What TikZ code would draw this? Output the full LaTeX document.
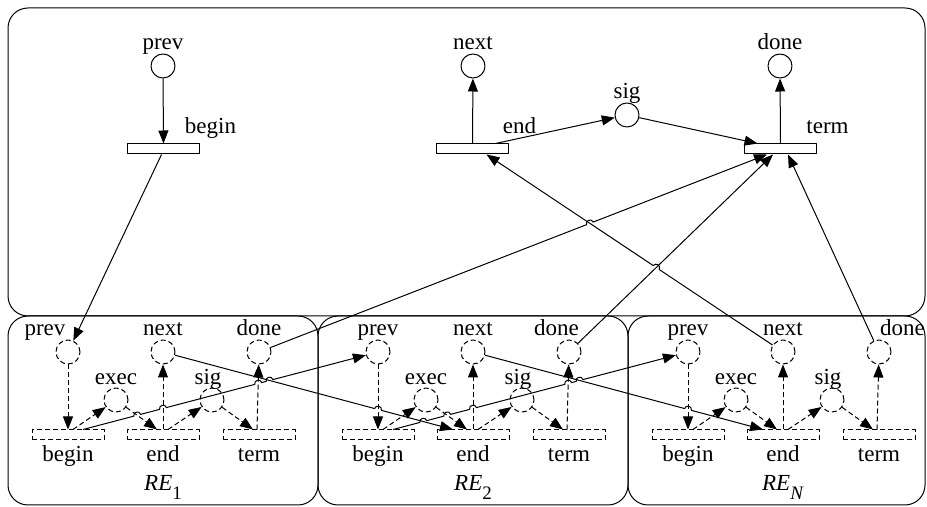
\documentclass[tikz,border=0pt]{standalone}
\usepackage{fontspec}
\setmainfont{Liberation Serif}
\usetikzlibrary{arrows.meta,calc,intersections}
\newcommand{\REname}[1]{\textit{RE}\raisebox{-4.5pt}{\fontsize{9.5}{10}\selectfont #1}}
\tikzset{
  place/.style={circle,draw,minimum size=12pt,inner sep=0pt},
  vdash/.style={dash pattern=on 2.5pt off 1.5pt},
  vplace/.style={place,vdash},
  trans/.style={draw,minimum width=36pt,minimum height=5pt,inner sep=0pt},
  vtrans/.style={trans,vdash},
  varc/.style={vdash,->},
  lbl/.style={anchor=base,inner sep=0pt},
  block/.style={draw,rounded corners=10pt},
  hopl/.style={bend left=90,looseness=1.6},
  hopr/.style={bend right=90,looseness=1.6},
}
\begin{document}
\begin{tikzpicture}[x=0.5pt,y=-0.5pt,line width=0.5pt,line join=round,>={Triangle[length=6.5pt,width=5pt]},font=\fontsize{11.5}{13}\selectfont]
	\useasboundingbox (0,0) rectangle (927,507);
	% main net
	\draw[block] (8,8) rectangle (925,316);
	\node[place] (tp) at (163,66) {};
	\node[place] (tn) at (473,66) {};
	\node[place] (ts) at (627,115) {};
	\node[place] (td) at (780,66) {};
	\node[trans] (tb) at (163.5,149) {};
	\node[trans] (te) at (472.5,149) {};
	\node[trans] (tt) at (780.5,149) {};
	\node[lbl] (tpl) at ([yshift=2pt]tp.north) {prev};
	\node[lbl] (tnl) at ([yshift=2pt]tn.north) {next};
	\node[lbl] (tsl) at ([yshift=2pt]ts.north) {sig};
	\node[lbl] (tdl) at ([yshift=2pt]td.north) {done};
	\node[lbl] (tbl) at ([xshift=23.5pt,yshift=5pt]tb.north) {begin};
	\node[lbl] (tel) at ([xshift=23.5pt,yshift=5pt]te.north) {end};
	\node[lbl] (ttl) at ([xshift=23.5pt,yshift=5pt]tt.north) {term};
	\draw[->] (tp) -- (tb);
	\draw[->] (te) -- (tn);
	\draw[->] ([xshift=11.5pt]te.north) -- (ts);
	\draw[->] (ts) -- ([xshift=-11.5pt]tt.north);
	\draw[->] (tt) -- (td);
	% the RE blocks
	\foreach \i/\x/\r/\n/\pd/\dd in {1/0/318/1/-11.5pt/0pt, 2/310/628/2/0pt/-6.3pt, 3/620/925/\textit{N}/0pt/11.75pt}{
		\draw[block] (\x+8,316) rectangle (\r,505);
		\node[vplace] (p\i) at (\x+68,352) {};
		\node[vplace] (n\i) at (\x+163,352) {};
		\node[vplace] (d\i) at (\x+259,352) {};
		\node[vplace] (x\i) at (\x+116,400) {};
		\node[vplace] (s\i) at (\x+212,400) {};
		\node[vtrans] (b\i) at (\x+68,435) {};
		\node[vtrans] (e\i) at (\x+163,435) {};
		\node[vtrans] (t\i) at (\x+259,435) {};
		\coordinate (bo\i) at ([xshift=7.5pt]b\i.north);
		\node[lbl] (lp\i) at ([xshift=\pd,yshift=1.75pt]p\i.north) {prev};
		\node[lbl] (ln\i) at ([yshift=1.75pt]n\i.north) {next};
		\node[lbl] (ld\i) at ([xshift=\dd,yshift=1.75pt]d\i.north) {done};
		\node[lbl] (lx\i) at ([yshift=1.5pt]x\i.north) {exec};
		\node[lbl] (ls\i) at ([xshift=-2pt,yshift=1.5pt]s\i.north) {sig};
		\node[lbl] (lb\i) at ([yshift=-10.5pt]b\i.south) {begin};
		\node[lbl] (le\i) at ([yshift=-10.5pt]e\i.south) {end};
		\node[lbl] (lt\i) at ([yshift=-10.5pt]t\i.south) {term};
		\node[lbl] (lr\i) at ([yshift=-25pt]e\i.south) {\REname{\n}};
		\draw[varc,name path global=pb\i] (p\i) -- (b\i);
		\draw[varc] ([xshift=2.5pt]b\i.north) -- (x\i);
		\draw[varc,name path global=xe\i] (x\i) -- ([xshift=-3pt]e\i.north);
		\draw[varc,name path global=en\i] (e\i) -- (n\i);
		\draw[varc] ([xshift=2.5pt]e\i.north) -- (s\i);
		\draw[varc] (s\i) -- ([xshift=-3pt]t\i.north);
		\draw[varc,name path global=td\i] ([xshift=-1pt]t\i.north) -- (d\i);
	}
	% links between the blocks and the main net
	\path[name path=bp1] (bo1) -- (p2);
	\path[name path=bp2] (bo2) -- (p3);
	\path[name path=ne1] (n1) -- ([xshift=-10pt]e2.north);
	\path[name path=ne2] (n2) -- ([xshift=-10pt]e3.north);
	\path[name path=dt1] (d1) -- ([xshift=-6.75pt]tt.south);
	\path[name path=dt2] (d2) -- ([xshift=-3.75pt]tt.south);
	\path[name path=nt3] (n3) -- ([xshift=7pt]te.south);
	% crossing points
	\path[name intersections={of=bp1 and xe1,by=h11}];
	\path[name intersections={of=bp1 and en1,by=h12}];
	\path[name intersections={of=bp1 and td1,by=h13}];
	\path[name intersections={of=bp1 and ne1,by=h14}];
	\path[name intersections={of=bp2 and ne1,by=h21}];
	\path[name intersections={of=bp2 and xe2,by=h22}];
	\path[name intersections={of=bp2 and en2,by=h23}];
	\path[name intersections={of=bp2 and td2,by=h24}];
	\path[name intersections={of=bp2 and ne2,by=h25}];
	\path[name intersections={of=ne1 and pb2,by=h31}];
	\path[name intersections={of=ne2 and pb3,by=h41}];
	\path[name intersections={of=dt1 and nt3,by=h51}];
	\path[name intersections={of=nt3 and dt2,by=h61}];
	\draw[->] ([xshift=-1pt]tb.south) -- (p1);
	\draw[->] (bo1) foreach \h in {h11,h12,h13,h14}{ -- ($(\h)!1.75pt!(bo1)$) to[hopl] ($(\h)!-1.75pt!(bo1)$) } -- (p2);
	\draw[->] (bo2) foreach \h in {h21,h22,h23,h24,h25}{ -- ($(\h)!1.75pt!(bo2)$) to[hopl] ($(\h)!-1.75pt!(bo2)$) } -- (p3);
	\draw[->] (n1) -- ($(h31)!1.75pt!(n1)$) to[hopl] ($(h31)!-1.75pt!(n1)$) -- ([xshift=-10pt]e2.north);
	\draw[->] (n2) -- ($(h41)!1.75pt!(n2)$) to[hopl] ($(h41)!-1.75pt!(n2)$) -- ([xshift=-10pt]e3.north);
	\draw[->] (d1) -- ($(h51)!1.75pt!(d1)$) to[hopl] ($(h51)!-1.75pt!(d1)$) -- ([xshift=-6.75pt]tt.south);
	\draw[->] (d2) -- ([xshift=-3.75pt]tt.south);
	\draw[->] (d3) -- ([xshift=3.75pt]tt.south);
	\draw[->] (n3) -- ($(h61)!1.75pt!(n3)$) to[hopr] ($(h61)!-1.75pt!(n3)$) -- ([xshift=7pt]te.south);
\end{tikzpicture}
\end{document}
